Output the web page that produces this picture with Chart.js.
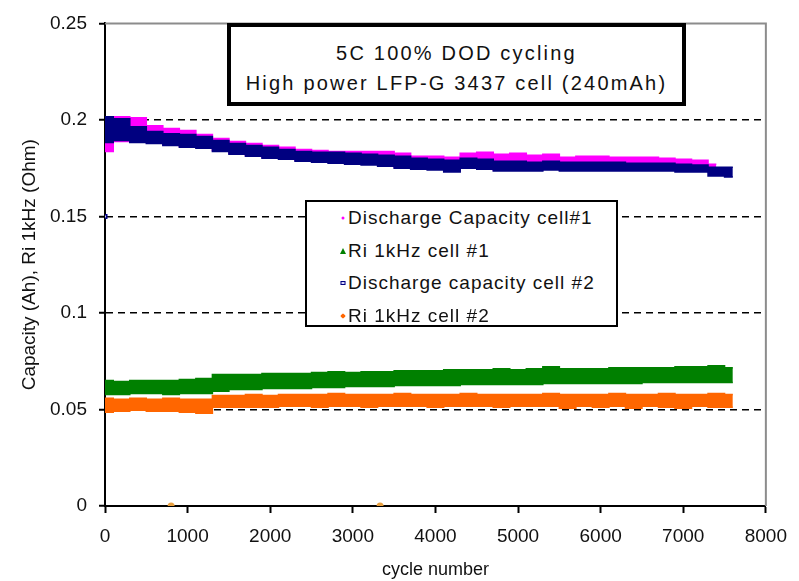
<!DOCTYPE html>
<html>
<head>
<meta charset="utf-8">
<title>5C 100% DOD cycling</title>
<script src="https://cdn.jsdelivr.net/npm/chart.js@4.4.1/dist/chart.umd.min.js"></script>
<style>
  html, body { margin: 0; padding: 0; background: #fff; }
  #chart-wrap { position: relative; width: 799px; height: 581px; background: #fff; }
  #cycling-chart { position: absolute; left: 0; top: 0; }
  #title-box {
    position: absolute; left: 227px; top: 23px; width: 459px; height: 83px;
    box-sizing: border-box; border: 4px solid #000; background: #fff;
    font-family: "Liberation Sans", Arial, sans-serif; font-size: 20px; color: #111;
    text-align: center; line-height: 30px; padding-top: 11px; letter-spacing: 2.2px;
  }
  #legend-box {
    position: absolute; left: 305px; top: 200px; width: 313px; height: 127px;
    box-sizing: border-box; border: 2px solid #000; background: #fff;
    font-family: "Liberation Sans", Arial, sans-serif; font-size: 19px; color: #111;
  }
  .legend-row { position: relative; height: 32.5px; line-height: 32.5px; padding-left: 41px; white-space: nowrap; letter-spacing: 1px; }
  .legend-mark { position: absolute; left: 36px; top: 50%; transform: translate(-50%, -50%); }
  .mark-dot { width: 3px; height: 3px; border-radius: 50%; }
  .mark-tri { width: 0; height: 0; border-left: 3px solid transparent; border-right: 3px solid transparent; border-bottom: 6px solid #008000; }
  .mark-rect { width: 3px; height: 2px; border: 1.5px solid #000080; background: #d8d8ff; }
  .mark-orange { width: 4px; height: 4px; border-radius: 1px; transform: translate(-50%, -50%) rotate(45deg); }
</style>
</head>
<body>
<div id="chart-wrap">
  <canvas id="cycling-chart" width="799" height="581"></canvas>
  <div id="title-box">
    <div>5C 100% DOD cycling</div>
    <div>High power LFP-G 3437 cell (240mAh)</div>
  </div>
  <div id="legend-box"></div>
</div>
<script>
// cycle number of each sample, every 200 cycles
const cycles = [0, 200, 400, 600, 800, 1000, 1200, 1400, 1600, 1800,
  2000, 2200, 2400, 2600, 2800, 3000, 3200, 3400, 3600, 3800,
  4000, 4200, 4400, 4600, 4800, 5000, 5200, 5400, 5600, 5800,
  6000, 6200, 6400, 6600, 6800, 7000, 7200, 7400, 7600];

// scatter of each series is drawn as a band: top and bottom edge per sample
const capCell1Top = [0.2011, 0.2016, 0.2011, 0.1970, 0.1955, 0.1945, 0.1924, 0.1904, 0.1888, 0.1878,
  0.1868, 0.1858, 0.1847, 0.1842, 0.1837, 0.1837, 0.1837, 0.1837, 0.1827, 0.1812,
  0.1812, 0.1807, 0.1827, 0.1832, 0.1822, 0.1827, 0.1817, 0.1822, 0.1807, 0.1812,
  0.1812, 0.1807, 0.1807, 0.1807, 0.1801, 0.1796, 0.1791, 0.1771, null];
const capCell1Bottom = [0.1837, 0.1888, 0.1888, 0.1883, 0.1873, 0.1863, 0.1858, 0.1842, 0.1827, 0.1817,
  0.1807, 0.1801, 0.1791, 0.1786, 0.1781, 0.1776, 0.1771, 0.1766, 0.1755, 0.1750,
  0.1745, 0.1740, 0.1755, 0.1750, 0.1740, 0.1740, 0.1740, 0.1745, 0.1740, 0.1740,
  0.1740, 0.1740, 0.1740, 0.1740, 0.1740, 0.1740, 0.1740, 0.1740, null];

const riCell1Top = [0.0650, 0.0645, 0.0650, 0.0650, 0.0650, 0.0655, 0.0660, 0.0681, 0.0681, 0.0681,
  0.0686, 0.0686, 0.0686, 0.0691, 0.0696, 0.0691, 0.0696, 0.0696, 0.0701, 0.0701,
  0.0701, 0.0706, 0.0706, 0.0706, 0.0711, 0.0706, 0.0711, 0.0722, 0.0711, 0.0711,
  0.0711, 0.0716, 0.0716, 0.0716, 0.0716, 0.0722, 0.0722, 0.0727, 0.0716];
const riCell1Bottom = [0.0578, 0.0578, 0.0583, 0.0583, 0.0578, 0.0583, 0.0583, 0.0594, 0.0604, 0.0604,
  0.0609, 0.0609, 0.0609, 0.0614, 0.0614, 0.0619, 0.0619, 0.0619, 0.0624, 0.0624,
  0.0624, 0.0624, 0.0629, 0.0629, 0.0629, 0.0629, 0.0629, 0.0635, 0.0635, 0.0635,
  0.0635, 0.0635, 0.0635, 0.0640, 0.0640, 0.0640, 0.0640, 0.0640, 0.0640];

const capCell2Top = [0.2016, 0.2006, 0.1965, 0.1940, 0.1929, 0.1924, 0.1914, 0.1894, 0.1878, 0.1868,
  0.1858, 0.1847, 0.1837, 0.1832, 0.1832, 0.1827, 0.1822, 0.1817, 0.1812, 0.1801,
  0.1796, 0.1791, 0.1801, 0.1796, 0.1786, 0.1786, 0.1781, 0.1786, 0.1781, 0.1781,
  0.1781, 0.1781, 0.1776, 0.1776, 0.1776, 0.1771, 0.1766, 0.1755, 0.1755];
const capCell2Bottom = [0.1883, 0.1894, 0.1883, 0.1878, 0.1868, 0.1858, 0.1853, 0.1837, 0.1822, 0.1812,
  0.1801, 0.1796, 0.1786, 0.1781, 0.1776, 0.1771, 0.1766, 0.1760, 0.1750, 0.1745,
  0.1740, 0.1730, 0.1750, 0.1745, 0.1735, 0.1735, 0.1735, 0.1740, 0.1735, 0.1735,
  0.1735, 0.1735, 0.1735, 0.1735, 0.1735, 0.1730, 0.1730, 0.1709, 0.1704];

const riCell2Top = [0.0558, 0.0553, 0.0558, 0.0553, 0.0558, 0.0553, 0.0553, 0.0573, 0.0573, 0.0578,
  0.0573, 0.0578, 0.0578, 0.0578, 0.0583, 0.0578, 0.0578, 0.0578, 0.0583, 0.0578,
  0.0578, 0.0578, 0.0583, 0.0578, 0.0578, 0.0578, 0.0578, 0.0583, 0.0578, 0.0578,
  0.0578, 0.0583, 0.0578, 0.0578, 0.0583, 0.0578, 0.0578, 0.0583, 0.0578];
const riCell2Bottom = [0.0486, 0.0491, 0.0496, 0.0491, 0.0491, 0.0486, 0.0481, 0.0512, 0.0512, 0.0512,
  0.0512, 0.0517, 0.0517, 0.0512, 0.0517, 0.0517, 0.0512, 0.0517, 0.0517, 0.0517,
  0.0512, 0.0517, 0.0517, 0.0517, 0.0512, 0.0517, 0.0517, 0.0517, 0.0507, 0.0517,
  0.0512, 0.0517, 0.0507, 0.0517, 0.0512, 0.0507, 0.0517, 0.0512, 0.0512];

// stray readings away from the bands
const capCell2StrayCycles = [0];
const capCell2StrayValues = [0.15];
const riCell2StrayCycles = [800, 3330];
const riCell2StrayValues = [0, 0];

const yTickLabels = ['0', '0.05', '0.1', '0.15', '0.2', '0.25'];
const xTickLabels = ['0', '1000', '2000', '3000', '4000', '5000', '6000', '7000', '8000'];

const series = [
  {name: 'Discharge Capacity cell#1', color: '#ff00ff', mark: 'mark-dot'},
  {name: 'Ri 1kHz  cell #1', color: '#008000', mark: 'mark-tri'},
  {name: 'Discharge capacity cell #2', color: '#000080', mark: 'mark-rect'},
  {name: 'Ri 1kHz  cell #2', color: '#ff6600', mark: 'mark-orange'}
];

function toPoints(xs, ys) {
  return xs.map(function (x, i) { return {x: x, y: ys[i]}; });
}

// two stepped lines per series, the upper one filled down to the lower one
function band(top, bottom, color) {
  return [
    {data: toPoints(cycles, bottom), borderColor: color, borderWidth: 1.5, pointRadius: 0, stepped: 'middle', fill: false},
    {data: toPoints(cycles, top), borderColor: color, backgroundColor: color, borderWidth: 1.5, pointRadius: 0, stepped: 'middle', fill: '-1'}
  ];
}

// first dataset is painted last, so cell #2 capacity sits over cell #1
var datasets = [
  {data: toPoints(capCell2StrayCycles, capCell2StrayValues), showLine: false, pointStyle: 'rect',
    pointRadius: 2.5, borderColor: '#000080', borderWidth: 1.5, backgroundColor: '#c8c8ff'},
  {data: toPoints(riCell2StrayCycles, riCell2StrayValues), showLine: false, pointStyle: 'circle',
    pointRadius: 3.5, borderWidth: 0, backgroundColor: '#e8a040'}
].concat(
  band(capCell2Top, capCell2Bottom, '#000080'),
  band(capCell1Top, capCell1Bottom, '#ff00ff'),
  band(riCell1Top, riCell1Bottom, '#008000'),
  band(riCell2Top, riCell2Bottom, '#ff6600')
);

// grey top / right edge of the plot frame
const framePlugin = {
  id: 'frame',
  beforeDatasetsDraw: function (chart) {
    var a = chart.chartArea, ctx = chart.ctx;
    ctx.save();
    ctx.strokeStyle = '#8c8c8c';
    ctx.lineWidth = 2;
    ctx.beginPath();
    ctx.moveTo(a.left, a.top);
    ctx.lineTo(a.right, a.top);
    ctx.lineTo(a.right, a.bottom);
    ctx.stroke();
    ctx.restore();
  }
};

const tickFont = {family: '"Liberation Sans", Arial, sans-serif', size: 19};

var ctx = document.getElementById('cycling-chart').getContext('2d');
var myChart = new Chart(ctx, {
  type: 'line',
  data: {datasets: datasets},
  plugins: [framePlugin],
  options: {
    responsive: false,
    animation: false,
    layout: {padding: {left: 0, top: 17, right: 22, bottom: 0}},
    plugins: {
      legend: {display: false},
      tooltip: {enabled: false}
    },
    scales: {
      x: {
        type: 'linear',
        min: 0,
        max: 8000,
        afterFit: function (scale) { scale.height = 75; },
        border: {color: '#000', width: 2},
        grid: {drawOnChartArea: false, drawTicks: true, tickLength: 7, tickColor: '#000', tickWidth: 2},
        ticks: {
          stepSize: 1000,
          maxRotation: 0,
          autoSkip: false,
          padding: 12,
          color: '#111',
          font: tickFont,
          callback: function (v, i) { return xTickLabels[i]; }
        },
        title: {display: true, text: 'cycle number', color: '#111', padding: {top: 0, bottom: 0},
          font: {family: '"Liberation Sans", Arial, sans-serif', size: 18}}
      },
      y: {
        min: 0,
        max: 0.25,
        afterFit: function (scale) { scale.width = 105; },
        // dash here applies to the grid lines, the axis line itself stays solid
        border: {color: '#000', width: 2, dash: [7, 5]},
        grid: {
          color: function (c) {
            var v = c.tick ? c.tick.value : 0;
            return (v > 0.001 && v < 0.249) ? '#000' : 'rgba(0,0,0,0)';
          },
          lineWidth: 1.5,
          tickLength: 6,
          tickColor: '#000',
          tickWidth: 2,
          tickBorderDash: []
        },
        ticks: {
          stepSize: 0.05,
          padding: 12,
          color: '#111',
          font: tickFont,
          callback: function (v, i) { return yTickLabels[i]; }
        },
        title: {display: true, text: 'Capacity (Ah), Ri 1kHz (Ohm)', color: '#111', padding: {top: 18, bottom: 0},
          font: {family: '"Liberation Sans", Arial, sans-serif', size: 19}}
      }
    }
  }
});

// legend box inside the plot
var legendBox = document.getElementById('legend-box');
series.forEach(function (s) {
  var row = document.createElement('div');
  row.className = 'legend-row';
  var mark = document.createElement('span');
  mark.className = 'legend-mark ' + s.mark;
  if (s.mark === 'mark-dot' || s.mark === 'mark-orange') mark.style.background = s.color;
  row.appendChild(mark);
  row.appendChild(document.createTextNode(s.name));
  legendBox.appendChild(row);
});
</script>
</body>
</html>
